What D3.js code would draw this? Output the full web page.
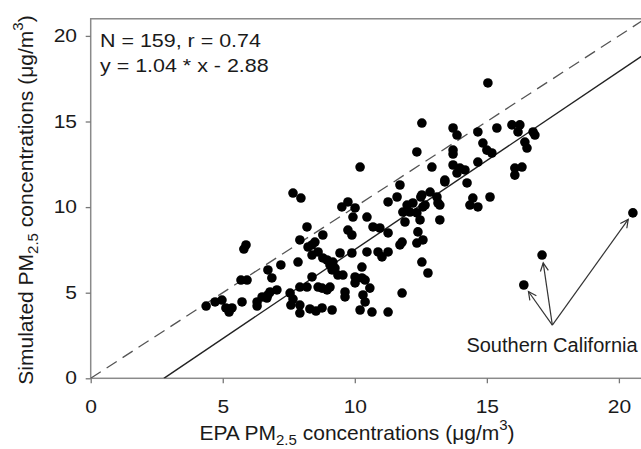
<!DOCTYPE html>
<html>
<head>
<meta charset="utf-8">
<script src="https://cdn.jsdelivr.net/npm/d3@7"></script>
<style>
  body { margin: 0; background: #fff; }
  svg text { font-family: "Liberation Sans", Arial, sans-serif; fill: #1a1a1a; }
</style>
</head>
<body>
<div id="chart"></div>
<script>
// EPA (x) and simulated (y) PM2.5
const epa = [
  4.37, 4.71, 4.97, 5.12, 5.35, 5.24, 5.73, 5.88, 5.80, 5.69, 5.92, 6.30, 6.30, 6.49, 6.67,
  6.79, 7.05, 6.71, 6.71, 6.86, 7.20, 7.55, 7.66, 7.58, 7.92, 7.85, 8.19, 8.38, 8.49, 8.23,
  8.38, 8.61, 8.79, 8.79, 8.38, 7.92, 8.19, 8.61, 8.95, 7.92, 7.92, 8.30, 8.53, 7.66, 7.96,
  11.71, 13.41, 9.74, 9.51, 10.01, 9.93, 11.26, 11.60, 12.54, 12.85, 13.11, 13.15, 11.98, 12.20, 11.82,
  12.09, 12.35, 12.47, 12.66, 10.46, 11.90, 13.22, 9.74, 9.89, 10.69, 10.95, 11.26, 12.39, 11.79, 12.35,
  12.58, 8.95, 9.44, 9.89, 10.46, 10.88, 11.03, 11.26, 9.17, 9.25, 9.36, 9.14, 9.55, 10.27, 12.54,
  12.77, 10.01, 10.27, 10.39, 10.01, 10.57, 9.06, 8.76, 10.31, 9.63, 10.39, 11.79, 8.76, 9.14, 10.20,
  10.65, 11.26,
  12.54, 10.20, 12.35, 13.72, 13.87, 13.72, 13.72, 12.92, 13.72, 13.98, 14.17, 13.87, 13.41, 14.25, 15.04,
  14.66, 15.38, 15.95, 16.25, 16.18, 16.75, 16.82, 14.85, 15.00, 15.19, 16.44, 16.52, 14.66, 16.06, 16.33,
  16.06, 14.47, 14.36, 14.66, 15.12, 20.53, 17.09, 16.40,
  13.22, 11.71, 9.06, 12.58, 12.50, 9.63
];
const sim = [
  4.22, 4.46, 4.57, 4.11, 4.11, 3.87, 4.46, 7.79, 7.55, 5.74, 5.74, 4.46, 4.22, 4.75, 4.69,
  5.04, 5.16, 4.87, 6.33, 5.86, 6.62, 4.98, 4.63, 4.28, 8.08, 6.79, 8.84, 7.79, 7.96, 7.67,
  7.20, 7.38, 7.03, 8.37, 5.92, 5.33, 5.33, 5.33, 5.16, 4.28, 3.81, 4.05, 3.93, 10.82, 10.53,
  11.29, 11.47, 10.30, 10.01, 9.95, 9.42, 10.30, 10.59, 10.71, 10.88, 10.59, 10.24, 10.12, 10.24, 9.71,
  9.71, 9.66, 9.25, 10.12, 9.42, 9.13, 9.25, 8.66, 8.37, 8.84, 8.78, 8.49, 8.55, 7.96, 7.90,
  8.08, 6.91, 7.32, 7.32, 7.38, 7.38, 7.09, 7.38, 6.79, 6.44, 6.03, 6.33, 6.03, 6.50, 6.79,
  6.15, 5.92, 5.86, 5.74, 5.57, 5.27, 5.33, 5.27, 4.87, 4.75, 4.46, 4.98, 4.11, 3.99, 3.99,
  3.87, 3.87,
  14.91, 12.34, 13.22, 14.62, 14.21, 13.33, 13.10, 12.34, 12.46, 12.28, 12.17, 11.99, 11.58, 11.41, 17.25,
  14.39, 14.62, 14.80, 14.80, 14.39, 14.39, 14.21, 13.74, 13.33, 13.16, 13.80, 13.45, 12.63, 12.28, 12.34,
  11.87, 10.53, 10.12, 10.01, 10.59, 9.66, 7.20, 5.45,
  10.12, 7.79, 6.62, 10.01, 10.59, 5.04
];

const xTicks = [0, 5, 10, 15, 20];
const yTicks = [0, 5, 10, 15, 20];
const axisMax = 21;
const fitSlope = 1.04, fitIntercept = -2.88;
const statLines = ['N = 159, r = 0.74', 'y = 1.04 * x - 2.88'];
const calloutLabel = 'Southern California';
const calloutAnchor = [17.48, 3.11];
const calloutTargets = [[16.40, 5.45], [17.09, 7.20], [20.53, 9.66]];

const width = 641, height = 449;
const left = 90.7, bottom = 378.3, pxPerX = 26.41, pxPerY = 17.12;

const svg = d3.select('#chart').append('svg')
  .attr('width', width)
  .attr('height', height)
  .style('display', 'block');

const x = d3.scaleLinear().domain([0, axisMax]).range([left, left + axisMax * pxPerX]);
const y = d3.scaleLinear().domain([0, axisMax]).range([bottom, bottom - axisMax * pxPerY]);

svg.append('clipPath').attr('id', 'plotClip')
  .append('rect')
  .attr('x', x(0)).attr('y', y(axisMax))
  .attr('width', x(axisMax) - x(0)).attr('height', y(0) - y(axisMax));

// frame
svg.append('rect')
  .attr('x', x(0)).attr('y', y(axisMax))
  .attr('width', x(axisMax) - x(0)).attr('height', y(0) - y(axisMax))
  .attr('fill', 'none')
  .attr('stroke', '#8a8a8a')
  .attr('stroke-width', 1.5);

// axes
const xAxis = svg.append('g')
  .attr('transform', 'translate(0,' + y(0) + ')')
  .call(d3.axisBottom(x).tickValues(xTicks).tickSize(5).tickSizeOuter(0));
xAxis.select('.domain').remove();
xAxis.selectAll('line').attr('stroke', '#777').attr('stroke-width', 1.3);
xAxis.selectAll('text')
  .attr('font-size', 17.5)
  .attr('y', 21.8)
  .attr('transform', 'scale(1.2,1)');

const yAxis = svg.append('g')
  .attr('transform', 'translate(' + x(0) + ',0)')
  .call(d3.axisLeft(y).tickValues(yTicks).tickSize(5).tickSizeOuter(0));
yAxis.select('.domain').remove();
yAxis.selectAll('line').attr('stroke', '#777').attr('stroke-width', 1.3);
yAxis.selectAll('text')
  .attr('font-size', 17.5)
  .attr('x', -11.4)
  .attr('transform', 'scale(1.2,1)');

svg.selectAll('.tick text').attr('fill', '#1a1a1a');

// 1:1 line and regression line
const plot = svg.append('g').attr('clip-path', 'url(#plotClip)');
const line = d3.line().x(d => x(d[0])).y(d => y(d[1]));

plot.append('path')
  .datum([[0, 0], [axisMax, axisMax]])
  .attr('d', line)
  .attr('fill', 'none')
  .attr('stroke', '#555')
  .attr('stroke-width', 1.3)
  .attr('stroke-dasharray', '12,7');

const x0 = -fitIntercept / fitSlope;
plot.append('path')
  .datum([[x0, 0], [axisMax, fitSlope * axisMax + fitIntercept]])
  .attr('d', line)
  .attr('fill', 'none')
  .attr('stroke', '#222')
  .attr('stroke-width', 1.4);

// points
plot.selectAll('circle')
  .data(d3.range(epa.length))
  .join('circle')
  .attr('cx', i => x(epa[i]))
  .attr('cy', i => y(sim[i]))
  .attr('r', 4.8)
  .attr('fill', '#000');

// stats text
statLines.forEach((s, i) => {
  svg.append('text')
    .attr('transform', 'translate(100,' + (46.7 + i * 25) + ') scale(1.16,1)')
    .attr('font-size', 18.5)
    .text(s);
});

// callout arrows
svg.append('defs').append('marker')
  .attr('id', 'arrow')
  .attr('markerUnits', 'userSpaceOnUse')
  .attr('viewBox', '-10 -6 12 12')
  .attr('refX', 0).attr('refY', 0)
  .attr('markerWidth', 12).attr('markerHeight', 12)
  .attr('orient', 'auto')
  .append('path')
  .attr('d', 'M-8,-4 L0,0 L-8,4')
  .attr('fill', 'none')
  .attr('stroke', '#333')
  .attr('stroke-width', 1.2);

const ax = x(calloutAnchor[0]), ay = y(calloutAnchor[1]);
calloutTargets.forEach(t => {
  const tx = x(t[0]), ty = y(t[1]);
  const dx = tx - ax, dy = ty - ay, len = Math.sqrt(dx * dx + dy * dy);
  const gap = 8;
  svg.append('line')
    .attr('x1', ax).attr('y1', ay)
    .attr('x2', ax + dx * (len - gap) / len)
    .attr('y2', ay + dy * (len - gap) / len)
    .attr('stroke', '#333')
    .attr('stroke-width', 1.2)
    .attr('marker-end', 'url(#arrow)');
});

svg.append('text')
  .attr('x', 552).attr('y', 351.7)
  .attr('text-anchor', 'middle')
  .attr('font-size', 20)
  .text(calloutLabel);

// axis titles
function title(sel, main, sub, rest) {
  sel.append('tspan').text(main);
  sel.append('tspan').attr('font-size', 15).attr('dy', 5).text(sub);
  sel.append('tspan').attr('dy', -5).text(rest);
  sel.append('tspan').attr('font-size', 15).attr('dy', -10).text('3');
  sel.append('tspan').attr('dy', 10).text(')');
}

const xt = svg.append('text')
  .attr('x', 357).attr('y', 440)
  .attr('text-anchor', 'middle')
  .attr('font-size', 21);
title(xt, 'EPA PM', '2.5', ' concentrations (\u03bcg/m');

const yt = svg.append('text')
  .attr('transform', 'translate(33,200) rotate(-90)')
  .attr('text-anchor', 'middle')
  .attr('font-size', 21);
title(yt, 'Simulated PM', '2.5', ' concentrations (\u03bcg/m');
</script>
</body>
</html>
